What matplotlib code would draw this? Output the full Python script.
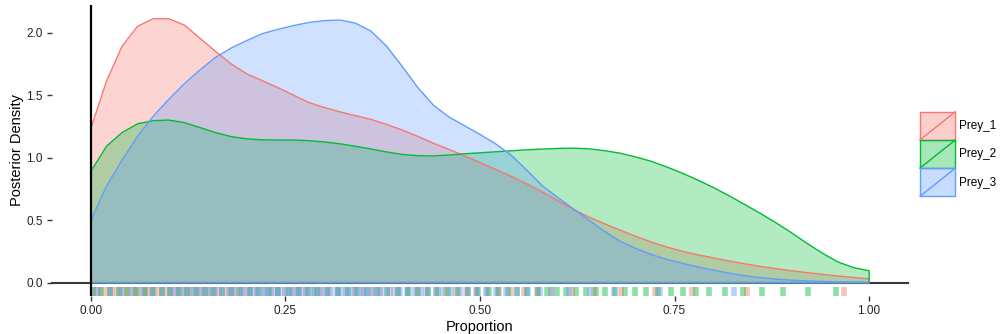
import numpy as np
import matplotlib
matplotlib.use("Agg")
import matplotlib.pyplot as plt
from matplotlib.legend_handler import HandlerBase
from matplotlib.patches import Rectangle
from matplotlib.lines import Line2D

plt.rcParams['font.family'] = ['Liberation Sans', 'DejaVu Sans']

# ---- data ----
grid = [0.00, 0.02, 0.04, 0.06, 0.08, 0.10, 0.12, 0.14, 0.16, 0.18,
        0.20, 0.22, 0.24, 0.26, 0.28, 0.30, 0.32, 0.34, 0.36, 0.38,
        0.40, 0.42, 0.44, 0.46, 0.48, 0.50, 0.52, 0.54, 0.56, 0.58,
        0.60, 0.62, 0.64, 0.66, 0.68, 0.70, 0.72, 0.74, 0.76, 0.78,
        0.80, 0.82, 0.84, 0.86, 0.88, 0.90, 0.92, 0.94, 0.96, 0.98, 1.00]

prey1_density = [1.235, 1.61, 1.89, 2.05, 2.11, 2.11, 2.06, 1.955, 1.85, 1.75,
                 1.67, 1.615, 1.56, 1.50, 1.44, 1.40, 1.365, 1.335, 1.305, 1.265,
                 1.22, 1.17, 1.115, 1.065, 1.015, 0.96, 0.905, 0.85, 0.79, 0.725,
                 0.655, 0.585, 0.525, 0.47, 0.42, 0.37, 0.325, 0.285, 0.25, 0.222,
                 0.198, 0.173, 0.15, 0.13, 0.112, 0.095, 0.08, 0.066, 0.053, 0.041, 0.03]

prey2_density = [0.89, 1.09, 1.20, 1.27, 1.295, 1.30, 1.28, 1.24, 1.20, 1.168,
                 1.15, 1.142, 1.14, 1.14, 1.135, 1.125, 1.11, 1.09, 1.068, 1.045,
                 1.025, 1.015, 1.013, 1.02, 1.03, 1.038, 1.046, 1.054, 1.062, 1.068,
                 1.073, 1.075, 1.07, 1.055, 1.035, 1.005, 0.97, 0.925, 0.875, 0.82,
                 0.76, 0.695, 0.625, 0.555, 0.48, 0.40, 0.315, 0.235, 0.165, 0.12, 0.095]

prey3_density = [0.50, 0.77, 0.98, 1.17, 1.33, 1.465, 1.59, 1.70, 1.80, 1.875,
                 1.935, 1.99, 2.025, 2.055, 2.08, 2.095, 2.10, 2.075, 2.01, 1.89,
                 1.73, 1.56, 1.42, 1.325, 1.255, 1.185, 1.11, 1.02, 0.90, 0.775,
                 0.68, 0.59, 0.50, 0.41, 0.33, 0.275, 0.225, 0.185, 0.155, 0.125,
                 0.10, 0.075, 0.055, 0.04, 0.028, 0.02, 0.013, 0.009, 0.006, 0.004, 0.003]

prey1_samples = [0.004, 0.012, 0.019, 0.027, 0.033, 0.041, 0.048, 0.055, 0.061, 0.068,
                 0.074, 0.081, 0.088, 0.095, 0.102, 0.108, 0.115, 0.122, 0.129, 0.136,
                 0.143, 0.150, 0.158, 0.165, 0.173, 0.181, 0.189, 0.197, 0.205, 0.214,
                 0.223, 0.232, 0.241, 0.250, 0.259, 0.268, 0.277, 0.287, 0.296, 0.306,
                 0.317, 0.328, 0.339, 0.350, 0.361, 0.372, 0.384, 0.395, 0.407, 0.419,
                 0.431, 0.443, 0.456, 0.469, 0.482, 0.495, 0.509, 0.524, 0.540, 0.556,
                 0.573, 0.591, 0.618, 0.647, 0.681, 0.725, 0.772, 0.843, 0.968]

prey2_samples = [0.003, 0.013, 0.024, 0.036, 0.047, 0.058, 0.069, 0.080, 0.091, 0.102,
                 0.113, 0.124, 0.135, 0.146, 0.157, 0.168, 0.180, 0.192, 0.204, 0.216,
                 0.229, 0.241, 0.254, 0.266, 0.279, 0.291, 0.304, 0.317, 0.330, 0.342,
                 0.355, 0.368, 0.381, 0.394, 0.407, 0.420, 0.433, 0.446, 0.459, 0.472,
                 0.485, 0.498, 0.511, 0.523, 0.536, 0.548, 0.561, 0.574, 0.586, 0.599,
                 0.611, 0.624, 0.636, 0.649, 0.661, 0.674, 0.686, 0.699, 0.713, 0.729,
                 0.745, 0.761, 0.777, 0.794, 0.815, 0.838, 0.862, 0.889, 0.921, 0.958]

prey3_samples = [0.008, 0.024, 0.039, 0.053, 0.066, 0.079, 0.091, 0.103, 0.111, 0.120,
                 0.128, 0.136, 0.144, 0.152, 0.160, 0.168, 0.177, 0.185, 0.194, 0.202,
                 0.209, 0.215, 0.222, 0.228, 0.235, 0.241, 0.248, 0.254, 0.261, 0.267,
                 0.274, 0.281, 0.288, 0.295, 0.302, 0.309, 0.316, 0.323, 0.330, 0.337,
                 0.344, 0.351, 0.358, 0.365, 0.373, 0.381, 0.389, 0.397, 0.406, 0.415,
                 0.424, 0.433, 0.443, 0.453, 0.463, 0.474, 0.485, 0.496, 0.508, 0.521,
                 0.534, 0.548, 0.562, 0.577, 0.593, 0.614, 0.641, 0.672, 0.731, 0.826]

labels = ["Prey_1", "Prey_2", "Prey_3"]
colors = ["#F8766D", "#00BA38", "#619CFF"]
x_ticks = [0.00, 0.25, 0.50, 0.75, 1.00]
x_tick_labels = ["0.00", "0.25", "0.50", "0.75", "1.00"]
y_ticks = [0.0, 0.5, 1.0, 1.5, 2.0]
y_tick_labels = ["0.0", "0.5", "1.0", "1.5", "2.0"]

# ---- figure ----
fig = plt.figure(figsize=(10, 3.34), dpi=100)
ax = fig.add_axes([0.052, 1 - 296 / 334, 0.856, 291 / 334])
ax.set_xlim(-0.05, 1.05)
ax.set_ylim(-0.107, 2.22)

for s in ax.spines.values():
    s.set_visible(False)

ax.axhline(0, color="#3a3a3a", lw=1.5, zorder=1, clip_on=False)
ax.axvline(0, color="black", lw=1.6, zorder=6)

gx = np.array(grid)
fill_alpha = 0.3
for dens, col in zip([prey1_density, prey2_density, prey3_density], colors):
    d = np.array(dens)
    ax.fill_between(gx, 0, d, color=col, alpha=fill_alpha, lw=0, zorder=2)
    px = np.concatenate([[gx[0]], gx, [gx[-1], gx[0]]])
    py = np.concatenate([[0], d, [0, 0]])
    ax.plot(px, py, color=col, lw=1.0, zorder=3, solid_joinstyle="round")

# rug
for samples, col in zip([prey1_samples, prey2_samples, prey3_samples], colors):
    ax.vlines(samples, -0.107, -0.107 + 0.03 * 2.327, colors=col, alpha=0.45,
              lw=4.0, zorder=2)

ax.set_xticks(x_ticks)
ax.set_xticklabels(x_tick_labels)
ax.set_yticks(y_ticks)
ax.set_yticklabels(y_tick_labels)
ax.tick_params(axis="both", colors="#333333", labelcolor="#222222", labelsize=8.5,
               length=3.5, width=1.0)
ax.tick_params(axis="x", pad=3)
ax.tick_params(axis="y", pad=3)
ax.set_xlabel("Proportion", fontsize=10.5, labelpad=2)
ax.set_ylabel("Posterior Density", fontsize=10.5, labelpad=2)


class DiagHandler(HandlerBase):
    def __init__(self, color):
        super().__init__()
        self.color = color

    def create_artists(self, legend, orig_handle, xdescent, ydescent, width, height,
                       fontsize, trans):
        r = Rectangle((-xdescent, -ydescent), width, height, facecolor=self.color,
                      alpha=0.35, edgecolor="none", transform=trans)
        r2 = Rectangle((-xdescent, -ydescent), width, height, facecolor="none",
                       edgecolor=self.color, lw=1.0, transform=trans)
        l = Line2D([-xdescent, -xdescent + width], [-ydescent, -ydescent + height],
                   color=self.color, lw=1.0, transform=trans)
        return [r, r2, l]


handles = [Rectangle((0, 0), 1, 1) for _ in labels]
hmap = {h: DiagHandler(c) for h, c in zip(handles, colors)}
leg = fig.legend(handles, labels, handler_map=hmap, loc="center left",
                 bbox_to_anchor=(0.920, 1 - 154 / 334), frameon=False,
                 fontsize=8.5, handlelength=3.0, handleheight=3.3,
                 labelspacing=0.0, handletextpad=0.3, borderpad=0, borderaxespad=0)

fig.savefig("out.png", dpi=100)
